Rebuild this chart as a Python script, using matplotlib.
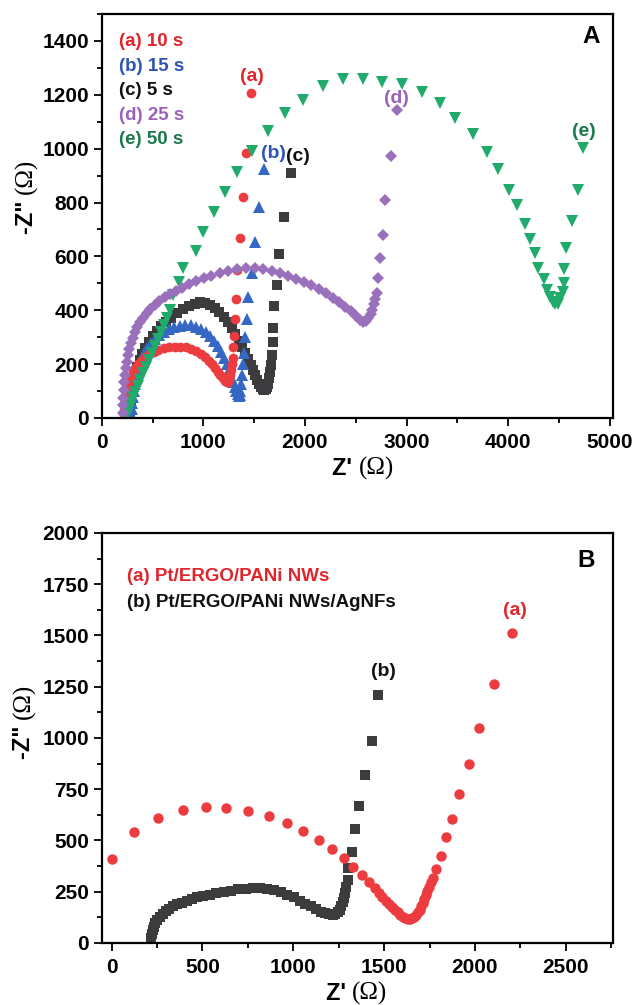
import matplotlib
matplotlib.use("Agg")
import matplotlib.pyplot as plt
from matplotlib.ticker import MultipleLocator

plt.rcParams['font.family'] = ['Liberation Sans', 'DejaVu Sans']
plt.rcParams['font.weight'] = 'bold'

# ---- panel A : deposition time series ----
a_x = [215, 218, 223, 230, 240, 252, 267, 285, 306, 330,
       358, 390, 426, 466, 510, 558, 610, 664, 718, 772,
       826, 878, 928, 974, 1016, 1054, 1088, 1118, 1144, 1168,
       1190, 1210, 1228, 1244, 1256, 1266, 1274, 1281, 1287, 1296,
       1304, 1313, 1323, 1335, 1360, 1389, 1420, 1467]
a_y = [12, 30, 50, 72, 95, 115, 135, 153, 170, 186,
       200, 213, 225, 236, 245, 253, 259, 263, 265, 265,
       262, 257, 249, 239, 227, 213, 199, 185, 171, 158,
       147, 138, 133, 135, 143, 158, 178, 200, 222, 262,
       305, 366, 440, 549, 670, 822, 985, 1208]

b_x = [292, 295, 299, 305, 313, 323, 336, 352, 371, 394,
       420, 450, 484, 522, 564, 610, 660, 712, 766, 820,
       874, 926, 976, 1022, 1066, 1106, 1142, 1175, 1205, 1232,
       1256, 1277, 1296, 1312, 1326, 1338, 1348, 1356, 1362, 1368,
       1376, 1386, 1398, 1412, 1427, 1437, 1476, 1512, 1551, 1597]
b_y = [12, 32, 54, 78, 102, 126, 150, 174, 197, 219,
       240, 260, 278, 294, 308, 320, 330, 338, 343, 345,
       344, 339, 331, 319, 304, 286, 266, 245, 223, 200,
       177, 154, 133, 115, 100, 89, 83, 86, 100, 125,
       160, 200, 240, 300, 366, 450, 539, 652, 782, 926]

c_x = [275, 279, 285, 293, 303, 316, 332, 351, 374, 400,
       430, 463, 500, 540, 584, 632, 684, 740, 798, 858,
       918, 970, 1020, 1068, 1114, 1158, 1200, 1240, 1278, 1314,
       1348, 1380, 1410, 1438, 1464, 1488, 1510, 1530, 1549, 1567,
       1584, 1600, 1615, 1628, 1640, 1650, 1659, 1667, 1674, 1681,
       1689, 1696, 1722, 1748, 1798, 1860]
c_y = [12, 35, 60, 86, 112, 138, 164, 189, 214, 238,
       261, 283, 304, 323, 341, 357, 372, 389, 403, 415,
       425, 429, 427, 420, 409, 394, 375, 355, 333, 310,
       287, 264, 241, 219, 198, 178, 159, 142, 128, 116,
       108, 104, 106, 114, 128, 147, 170, 198, 235, 281,
       333, 416, 493, 607, 747, 910]

d_x = [205, 208, 212, 217, 223, 230, 238, 247, 258, 271,
       287, 305, 326, 350, 377, 408, 442, 480, 522, 568,
       618, 672, 730, 792, 858, 928, 1002, 1080, 1162, 1246,
       1332, 1418, 1504, 1590, 1674, 1756, 1836, 1914, 1990, 2064,
       2136, 2206, 2274, 2338, 2398, 2452, 2500, 2540, 2572, 2600,
       2624, 2645, 2662, 2678, 2692, 2706, 2722, 2739, 2766, 2792,
       2844, 2903]
d_y = [20, 48, 75, 105, 135, 160, 185, 208, 232, 256,
       278, 298, 318, 337, 355, 373, 390, 406, 421, 435,
       448, 460, 472, 484, 496, 507, 518, 528, 537, 545,
       552, 556, 556, 552, 546, 538, 528, 517, 505, 492,
       478, 463, 447, 430, 413, 396, 379, 365, 357, 360,
       370, 385, 402, 422, 440, 463, 518, 595, 681, 811,
       973, 1143]

e_x = [250, 262, 276, 292, 311, 332, 355, 380, 406, 434,
       462, 492, 522, 552, 582, 612, 642, 672, 700, 760,
       800, 925, 1000, 1102, 1214, 1332, 1476, 1640, 1804, 1984,
       2181, 2372, 2569, 2756, 2953, 3150, 3330, 3477, 3651, 3789,
       3903, 4012, 4085, 4166, 4215, 4265, 4297, 4347, 4380, 4412,
       4440, 4462, 4485, 4511, 4537, 4544, 4544, 4572, 4626, 4681,
       4740]
e_y = [10, 25, 42, 60, 78, 98, 119, 142, 166, 191,
       216, 242, 268, 293, 318, 345, 372, 400, 456, 506,
       558, 620, 689, 764, 838, 912, 990, 1065, 1131, 1182,
       1232, 1260, 1260, 1248, 1239, 1211, 1168, 1112, 1054, 988,
       926, 846, 790, 720, 663, 611, 555, 516, 475, 450,
       432, 422, 425, 445, 469, 500, 552, 630, 732, 846,
       1001]

legend_A = ["(a) 10 s", "(b) 15 s", "(c) 5 s", "(d) 25 s", "(e) 50 s"]

# ---- panel B : electrode comparison ----
pani_x = [0, 123, 256, 390, 518, 632, 752, 866, 963, 1055,
          1142, 1215, 1279, 1331, 1377, 1418, 1450, 1470, 1490, 1508,
          1526, 1544, 1561, 1576, 1590, 1604, 1617, 1630, 1643, 1655,
          1666, 1676, 1686, 1696, 1705, 1713, 1721, 1729, 1737, 1746,
          1756, 1768, 1784, 1813, 1841, 1872, 1914, 1969, 2023, 2105,
          2205]
pani_y = [408, 540, 608, 649, 665, 657, 644, 621, 583, 545,
          502, 459, 413, 370, 332, 299, 267, 245, 224, 206,
          190, 175, 161, 149, 138, 129, 122, 118, 117, 120,
          127, 137, 149, 163, 178, 195, 213, 232, 252, 272,
          296, 318, 359, 424, 519, 605, 727, 873, 1049, 1262,
          1514]

ag_x = [215, 217, 220, 225, 232, 241, 252, 265, 280, 297,
        316, 337, 360, 385, 412, 441, 472, 505, 540, 577,
        616, 656, 697, 738, 778, 818, 857, 895, 932, 968,
        1002, 1035, 1066, 1096, 1124, 1150, 1174, 1196, 1216, 1232,
        1245, 1256, 1265, 1272, 1278, 1284, 1291, 1302, 1302, 1321,
        1340, 1360, 1397, 1432, 1469]
ag_y = [5, 25, 45, 62, 80, 97, 113, 128, 142, 155,
        167, 178, 188, 197, 206, 214, 222, 229, 236, 243,
        250, 256, 261, 265, 268, 268, 265, 258, 248, 236,
        222, 207, 192, 178, 164, 153, 145, 140, 138, 141,
        149, 161, 178, 198, 220, 245, 275, 307, 367, 445,
        555, 670, 820, 985, 1210]

legend_B = ["(a) Pt/ERGO/PANi NWs", "(b) Pt/ERGO/PANi NWs/AgNFs"]

red = '#ec3c40'
blue = '#3468c4'
black = '#3c3c3e'
purple = '#9a70bd'
green = '#20ab6c'
text_cols = ['#e0262c', '#2d55b5', '#111111', '#9a62b8', '#1b7a4c']
serif = ['Liberation Serif', 'DejaVu Serif']


def style_axes(ax):
    for s in ax.spines.values():
        s.set_linewidth(1.6)
    ax.tick_params(which='both', direction='out', top=False, right=False,
                   width=1.3, labelsize=15)
    ax.tick_params(which='major', length=6)
    ax.tick_params(which='minor', length=3.5)
    ax.tick_params(axis='x', pad=5)
    ax.tick_params(axis='y', pad=3)


def axis_labels(ax, xsplit, xlab_y, ylab_x, ysplit):
    # bold sans "Z'" followed by a serif "(Ω)", as in the original figure
    ax.text(xsplit, xlab_y, "Z' ", fontsize=17, ha='right', va='center',
            transform=ax.transAxes)
    ax.text(xsplit, xlab_y, "(Ω)", fontsize=18, ha='left', va='center',
            family=serif, weight='normal', transform=ax.transAxes)
    ax.text(ylab_x, ysplit, '-Z" ', fontsize=17, rotation=90, ha='center',
            va='top', transform=ax.transAxes)
    ax.text(ylab_x, ysplit, "(Ω)", fontsize=18, rotation=90, ha='center',
            va='bottom', family=serif, weight='normal', transform=ax.transAxes)


fig = plt.figure(figsize=(6.32, 10.05), dpi=100)
axA = fig.add_axes([0.1609, 0.5841, 0.809, 0.402])
axB = fig.add_axes([0.1609, 0.0617, 0.809, 0.408])

# panel A
axA.plot(c_x, c_y, 's', color=black, ms=6.5, mew=0)
axA.plot(b_x, b_y, '^', color=blue, ms=8, mew=0)
axA.plot(a_x, a_y, 'o', color=red, ms=7, mew=0)
axA.plot(e_x, e_y, 'v', color=green, ms=9, mew=0)
axA.plot(d_x, d_y, 'D', color=purple, ms=6.5, mew=0)
axA.set_xlim(0, 5030)
axA.set_ylim(0, 1500)
axA.xaxis.set_major_locator(MultipleLocator(1000))
axA.xaxis.set_minor_locator(MultipleLocator(500))
axA.yaxis.set_major_locator(MultipleLocator(200))
axA.yaxis.set_minor_locator(MultipleLocator(100))
style_axes(axA)
axis_labels(axA, 0.503, -0.124, -0.147, 0.555)

for i, lab in enumerate(legend_A):
    axA.text(0.034, 0.931 - i * 0.0604, lab, color=text_cols[i], fontsize=13.5,
             va='center', ha='left', transform=axA.transAxes)
axA.text(0.958, 0.944, "A", fontsize=17.5, ha='center', va='center',
         transform=axA.transAxes)
axA.text(1476, 1266, "(a)", color=text_cols[0], fontsize=14, ha='center', va='center')
axA.text(1689, 982, "(b)", color=text_cols[1], fontsize=14, ha='center', va='center')
axA.text(1935, 970, "(c)", color=text_cols[2], fontsize=14, ha='center', va='center')
axA.text(2903, 1186, "(d)", color=text_cols[3], fontsize=14, ha='center', va='center')
axA.text(4740, 1062, "(e)", color=text_cols[4], fontsize=14, ha='center', va='center')

# panel B
axB.plot(ag_x, ag_y, 's', color=black, ms=7, mew=0)
axB.plot(pani_x, pani_y, 'o', color=red, ms=7.5, mew=0)
axB.set_xlim(-55, 2760)
axB.set_ylim(0, 2000)
axB.xaxis.set_major_locator(MultipleLocator(500))
axB.xaxis.set_minor_locator(MultipleLocator(250))
axB.yaxis.set_major_locator(MultipleLocator(250))
axB.yaxis.set_minor_locator(MultipleLocator(125))
style_axes(axB)
axis_labels(axB, 0.49, -0.124, -0.152, 0.546)

axB.text(0.049, 0.895, legend_B[0], color=text_cols[0], fontsize=13.5,
         va='center', ha='left', transform=axB.transAxes)
axB.text(0.049, 0.830, legend_B[1], color=text_cols[2], fontsize=13.5,
         va='center', ha='left', transform=axB.transAxes)
axB.text(0.948, 0.934, "B", fontsize=17.5, ha='center', va='center',
         transform=axB.transAxes)
axB.text(2219, 1624, "(a)", color=text_cols[0], fontsize=14, ha='center', va='center')
axB.text(1494, 1323, "(b)", color=text_cols[2], fontsize=14, ha='center', va='center')

fig.savefig("out.png", dpi=100)
